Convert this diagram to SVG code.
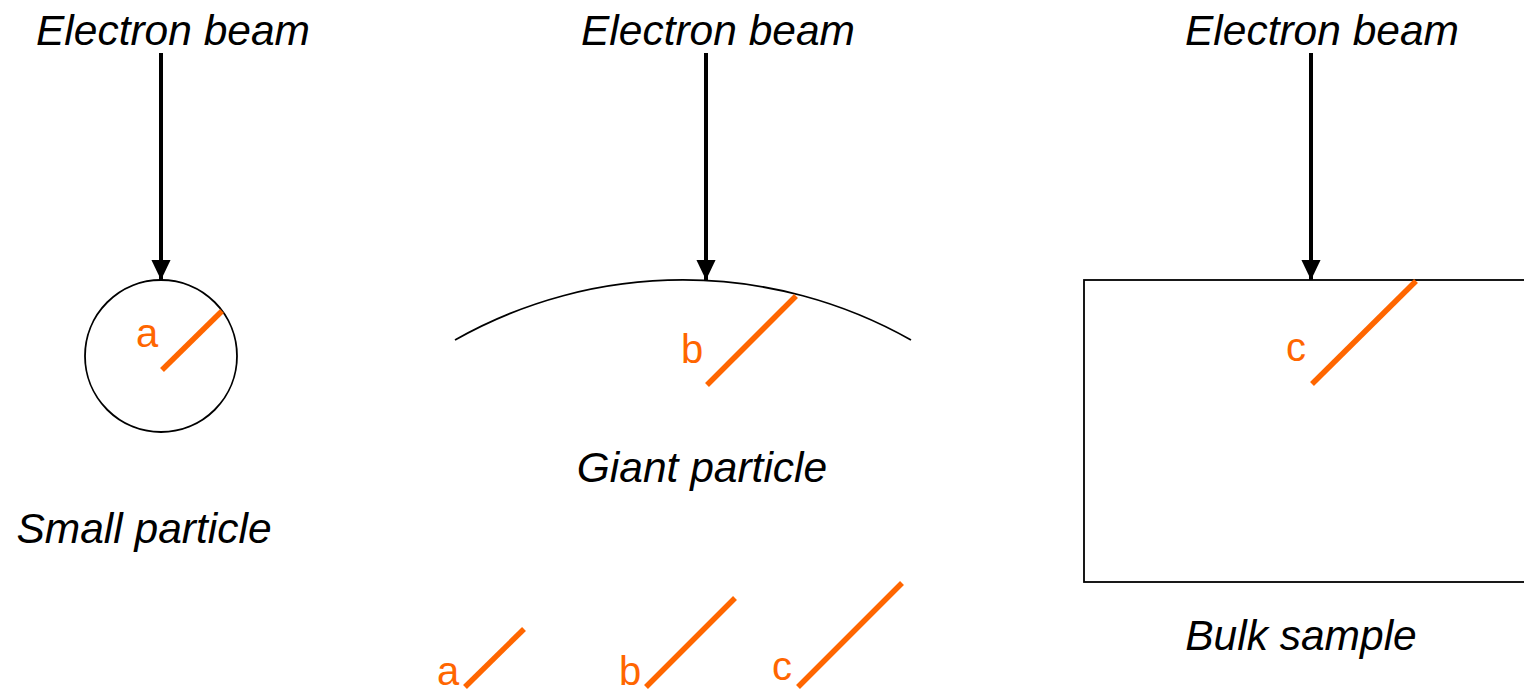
<svg xmlns="http://www.w3.org/2000/svg" width="1524" height="690" viewBox="0 0 1524 690">
<defs>
<marker id="ah" markerWidth="5" markerHeight="5" refX="4.6" refY="2.2" orient="auto" markerUnits="strokeWidth" viewBox="0 0 4.6 4.4">
<path d="M0,0 L4.6,2.2 L0,4.4 Z" fill="#000"/>
</marker>
<style>
.lbl{font-family:"Liberation Sans",Arial,sans-serif;font-style:italic;font-size:42.5px;fill:#000}
.ol{font-family:"Liberation Sans",Arial,sans-serif;font-size:40px;fill:#FF6600}
.or{stroke:#FF6600;stroke-width:5.5;fill:none}
.sh{stroke:#000;stroke-width:1.8;fill:none}
.beam{stroke:#000;stroke-width:4;fill:none;marker-end:url(#ah)}
</style>
</defs>
<rect width="1524" height="690" fill="#fff"/>
<g id="connectors">
<line class="beam" x1="161" y1="53" x2="161" y2="280"/>
<line class="beam" x1="706" y1="53" x2="706" y2="280"/>
<line class="beam" x1="1311" y1="53" x2="1311" y2="280"/>
</g>
<g id="small-particle">
<text class="lbl" x="173" y="45" text-anchor="middle">Electron beam</text>
<circle class="sh" cx="161" cy="356" r="76"/>
<line class="or" x1="162" y1="370" x2="222" y2="311"/>
<text class="ol" x="147" y="347" text-anchor="middle">a</text>
<text class="lbl" x="144" y="543" text-anchor="middle">Small particle</text>
</g>
<g id="giant-particle">
<text class="lbl" x="718" y="45" text-anchor="middle">Electron beam</text>
<path class="sh" d="M455,340 A463,463 0 0 1 911,340"/>
<line class="or" x1="707" y1="385" x2="796" y2="296"/>
<text class="ol" x="692" y="363" text-anchor="middle">b</text>
<text class="lbl" x="702" y="482" text-anchor="middle">Giant particle</text>
</g>
<g id="bulk-sample">
<text class="lbl" x="1322" y="45" text-anchor="middle">Electron beam</text>
<rect class="sh" x="1084" y="280" width="460" height="302"/>
<line class="or" x1="1312" y1="384" x2="1416" y2="281"/>
<text class="ol" x="1296" y="361" text-anchor="middle">c</text>
<text class="lbl" x="1301" y="650" text-anchor="middle">Bulk sample</text>
</g>
<g id="legend">
<line class="or" x1="465" y1="687" x2="524" y2="629"/>
<text class="ol" x="448" y="685" text-anchor="middle">a</text>
<line class="or" x1="646" y1="687" x2="735" y2="598"/>
<text class="ol" x="630" y="685" text-anchor="middle">b</text>
<line class="or" x1="798" y1="687" x2="902" y2="583"/>
<text class="ol" x="782" y="680" text-anchor="middle">c</text>
</g>
</svg>
